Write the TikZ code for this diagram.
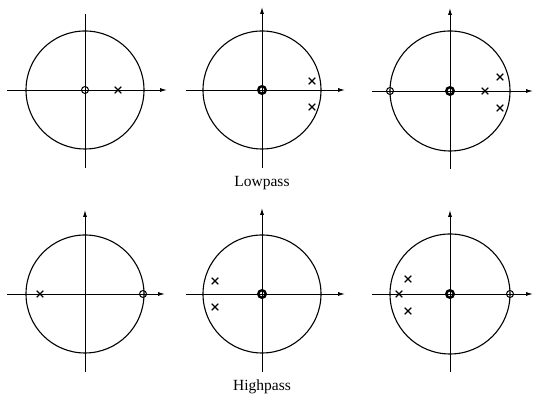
\documentclass[tikz,border=0pt]{standalone}
\usepackage{fontspec}
\setmainfont{Liberation Serif}
\usetikzlibrary{arrows.meta,shapes.misc}

\begin{document}
\begin{tikzpicture}[
    x=1pt, y=1pt,
    >={Latex[length=7pt,width=4pt]},
    axis/.style={line width=0.9pt},
    unit/.style={line width=1.1pt},
    pole/.style={cross out, draw, inner sep=0pt, minimum size=5.5pt, line width=1.1pt},
    zero/.style={circle, draw, inner sep=0pt, minimum size=7pt, line width=1pt},
    dzero/.style={circle, draw, inner sep=0pt, minimum size=7.5pt, line width=2.4pt},
    caption/.style={anchor=base, inner sep=0pt, font=\fontsize{15.5}{18}\selectfont}
]
\useasboundingbox (0,0) rectangle (536,395);

% lowpass, one pole
\begin{scope}[shift={(85,305)}]
\draw[axis,->] (-78,0) -- (82,0);
\draw[axis] (0,-78) -- (0,76);
\draw[unit] (0,0) circle (59);
\node[zero] (z1) at (0,0) {};
\node[pole] (p1) at (33,0) {};
\end{scope}

% lowpass, two poles
\begin{scope}[shift={(262,305)}]
\draw[axis,->] (-76,0) -- (83,0);
\draw[axis,->] (0,-78) -- (0,83);
\draw[unit] (0,0) circle (59);
\node[dzero] (z2) at (0,0) {};
\node[pole] (p2a) at (50,9) {};
\node[pole] (p2b) at (50,-17) {};
\end{scope}

% lowpass, three poles
\begin{scope}[shift={(450,304)}]
\draw[axis,->] (-78,0) -- (83,0);
\draw[axis,->] (0,-78) -- (0,83);
\draw[unit] (0,0) circle (60);
\node[dzero] (z3a) at (0,0) {};
\node[zero] (z3b) at (-60,0) {};
\node[pole] (p3a) at (35,0) {};
\node[pole] (p3b) at (50,14) {};
\node[pole] (p3c) at (50,-17) {};
\end{scope}

\node[caption] (low) at (262,208) {Lowpass};

% highpass, one pole
\begin{scope}[shift={(85,101)}]
\draw[axis,->] (-78,0) -- (80,0);
\draw[axis,->] (0,-78) -- (0,84);
\draw[unit] (0,0) circle (59);
\node[zero] (z4) at (58,0) {};
\node[pole] (p4) at (-45,0) {};
\end{scope}

% highpass, two poles
\begin{scope}[shift={(262,101)}]
\draw[axis,->] (-76,0) -- (83,0);
\draw[axis,->] (0,-78) -- (0,86);
\draw[unit] (0,0) circle (59);
\node[dzero] (z5) at (0,0) {};
\node[pole] (p5a) at (-47,13) {};
\node[pole] (p5b) at (-47,-13) {};
\end{scope}

% highpass, three poles
\begin{scope}[shift={(450,101)}]
\draw[axis,->] (-78,0) -- (83,0);
\draw[axis,->] (0,-78) -- (0,84);
\draw[unit] (0,0) circle (60);
\node[dzero] (z6a) at (0,0) {};
\node[zero] (z6b) at (60,0) {};
\node[pole] (p6a) at (-51,0) {};
\node[pole] (p6b) at (-42,15) {};
\node[pole] (p6c) at (-42,-17) {};
\end{scope}

\node[caption] (high) at (262,4) {Highpass};

\end{tikzpicture}
\end{document}
